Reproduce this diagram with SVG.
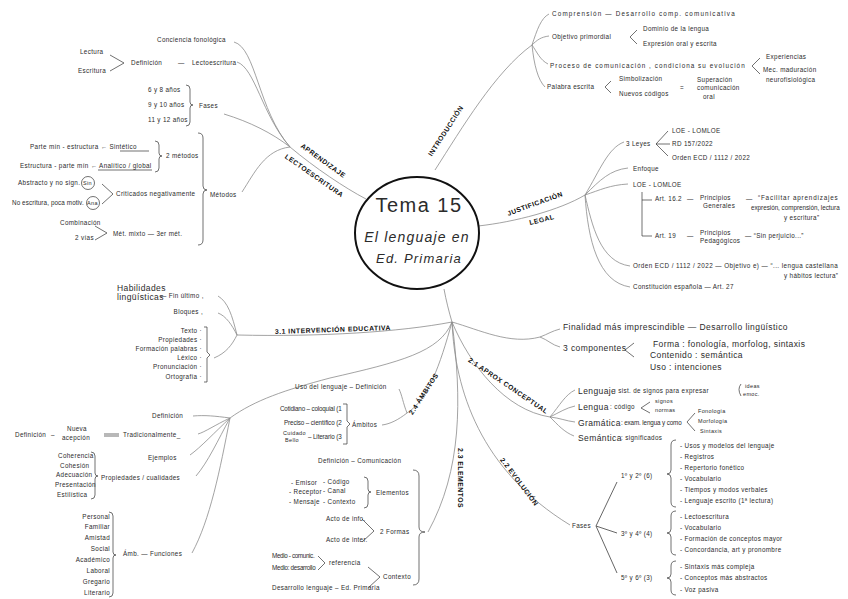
<svg xmlns="http://www.w3.org/2000/svg" width="848" height="599" viewBox="0 0 848 599">
<style>
text{font-family:"Liberation Sans","DejaVu Sans",sans-serif;fill:#2b2b2b}
.s{font-size:6.3px;letter-spacing:0.35px}
.m{font-size:8.5px;letter-spacing:0.4px}
.b{font-size:6.8px;font-weight:bold;letter-spacing:0.5px;fill:#111}
.c{fill:none;stroke:#8c8c8c;stroke-width:0.8}
.k{fill:none;stroke:#333;stroke-width:0.7}
.d{fill:none;stroke:#555;stroke-width:0.9}
</style>
<rect width="848" height="599" fill="#fff"/>

<g id="connectors" class="c">
<path d="M366,199 C345,188 315,168 290,147"/>
<path d="M234,42 C256,48 258,110 290,147"/>
<path d="M237,62 C255,68 262,115 290,147"/>
<path d="M224,114 C250,122 272,133 290,147"/>
<path d="M242,192 C255,172 265,150 290,147"/>
<path d="M435,170 C462,128 495,72 532,45"/>
<path d="M532,45 C537,30 541,18 549,14"/>
<path d="M532,45 C537,40 541,37 549,36"/>
<path d="M532,45 C537,52 540,60 548,64"/>
<path d="M532,45 C534,65 538,80 545,87"/>
<path d="M478,226 C515,222 560,210 585,195"/>
<path d="M585,195 C600,170 608,148 624,142"/>
<path d="M585,195 C600,180 610,170 628,168"/>
<path d="M585,195 C600,190 610,185 628,184"/>
<path d="M585,195 C592,225 600,262 630,266"/>
<path d="M585,195 C588,240 598,282 630,287"/>
<path d="M444,289 C446,300 449,312 452,322"/>
<path d="M452,322 C400,332 320,337 237,335"/>
<path d="M237,335 C232,315 228,302 218,296"/>
<path d="M237,335 C232,325 226,316 218,313"/>
<path d="M237,335 C232,345 226,353 214,358"/>
<path d="M452,322 C480,330 510,345 540,337"/>
<path d="M540,337 C548,334 552,331 560,329"/>
<path d="M540,337 C548,340 552,345 560,347"/>
<path d="M452,322 C470,365 505,410 550,417"/>
<path d="M550,417 C560,405 565,395 575,390"/>
<path d="M550,417 C560,412 566,408 575,406"/>
<path d="M550,417 C560,418 566,421 575,422"/>
<path d="M550,417 C558,425 564,432 574,436"/>
<path d="M452,322 C455,390 480,470 570,525"/>
<path class="d" d="M596,526 L617,482 M596,526 L617,533 M596,526 L617,573"/>
<path d="M452,322 C462,400 462,470 428,532"/>
<path d="M452,322 C440,365 428,400 407,413"/>
<path d="M407,413 C403,403 402,395 399,389"/>
<path d="M407,413 C398,420 390,424 382,425"/>
<path d="M452,322 C440,352 400,362 330,378 C285,390 255,400 230,418"/>
<path d="M230,418 C215,416 205,415 193,416"/>
<path d="M230,418 C215,425 205,432 198,434"/>
<path d="M230,418 C215,432 200,448 190,455"/>
<path d="M230,418 C218,440 208,462 196,476"/>
<path d="M230,418 C220,470 210,520 192,553"/>
</g>

<g id="title">
<ellipse cx="417" cy="233" rx="62" ry="56" fill="#fff" stroke="#111" stroke-width="2"/>
<text x="419" y="212" font-size="20" text-anchor="middle" letter-spacing="1.5" fill="#111">Tema 15</text>
<text x="417" y="242" font-size="14" text-anchor="middle" font-family="Liberation Serif" font-style="italic" letter-spacing="1.2" fill="#111">El lenguaje en</text>
<text x="419" y="263" font-size="13" text-anchor="middle" font-family="Liberation Serif" font-style="italic" letter-spacing="1.2" fill="#111">Ed. Primaria</text>
</g>

<g id="aprendizaje" class="s">
<text class="b" transform="translate(323,161) rotate(36)" text-anchor="middle" y="2">APRENDIZAJE</text>
<text class="b" transform="translate(314,176) rotate(35)" text-anchor="middle" y="2">LECTOESCRITURA</text>
<text x="157" y="42">Conciencia fonológica</text>
<text x="80" y="54">Lectura</text>
<text x="78" y="73">Escritura</text>
<path class="k" d="M110,55 L124,63 L110,71"/>
<text x="131" y="65">Definición</text>
<text x="178" y="65">—</text>
<text x="192" y="65">Lectoescritura</text>
<text x="148" y="92">6 y 8 años</text>
<text x="148" y="107">9 y 10 años</text>
<text x="148" y="122">11 y 12 años</text>
<path class="k" d="M186,85 Q190,85 190,89 L190,102 Q190,105 193,105 Q190,105 190,108 L190,122 Q190,126 186,126"/>
<text x="199" y="108">Fases</text>
<path class="k" d="M198,133 Q203,133 203,138 L203,186 Q203,190 207,190 Q203,190 203,194 L203,240 Q203,245 198,245"/>
<text x="210" y="197">Métodos</text>
<text x="30" y="149">Parte mín - estructura ← <tspan>Sintético</tspan></text>
<line class="k" x1="120" y1="151" x2="149" y2="151"/>
<path class="k" d="M155,141 Q159,141 159,145 L159,153 Q159,156 162,156 Q159,156 159,159 L159,168 Q159,172 155,172"/>
<text x="166" y="158">2 métodos</text>
<text x="20" y="168">Estructura - parte mín ← Analítico / global</text>
<line class="k" x1="98" y1="170" x2="152" y2="170"/>
<text x="18" y="185">Abstracto y no sign.</text>
<circle class="k" cx="88" cy="183" r="6.5"/>
<text x="83" y="185" font-size="5.5">Sin</text>
<text x="12" y="205" textLength="72">No escritura, poca motiv.</text>
<circle class="k" cx="93" cy="203" r="6.5"/>
<text x="87" y="205" font-size="5.5">Ana</text>
<path class="k" d="M102,184 L113,194 L102,204"/>
<text x="116" y="196">Criticados negativamente</text>
<text x="60" y="225">Combinación</text>
<text x="75" y="240">2 vías</text>
<path class="k" d="M95,226 L107,233 L95,240"/>
<text x="113" y="236">Mét. mixto — 3er mét.</text>
</g>

<g id="introduccion" class="s">
<text class="b" transform="translate(446,131) rotate(-57)" text-anchor="middle" y="2">INTRODUCCIÓN</text>
<text x="552" y="16" textLength="183">Comprensión — Desarrollo comp. comunicativa</text>
<text x="552" y="39">Objetivo primordial</text>
<path class="k" d="M637,30 L630,37 L637,44"/>
<text x="643" y="31">Dominio de la lengua</text>
<text x="643" y="46">Expresión oral y escrita</text>
<text x="550" y="68" textLength="195">Proceso de comunicación , condiciona su evolución</text>
<path class="k" d="M760,58 L752,66 L760,74"/>
<text x="766" y="59">Experiencias</text>
<text x="763" y="72">Mec. maduración</text>
<text x="766" y="82">neurofisiológica</text>
<text x="547" y="89">Palabra escrita</text>
<path class="k" d="M611,81 L605,87 L611,93"/>
<text x="619" y="81">Simbolización</text>
<text x="619" y="96">Nuevos códigos</text>
<text x="680" y="90">=</text>
<text x="697" y="82">Superación</text>
<text x="697" y="90">comunicación</text>
<text x="703" y="99">oral</text>
</g>

<g id="justificacion" class="s">
<text class="b" transform="translate(535,204) rotate(-20)" text-anchor="middle" y="2">JUSTIFICACIÓN</text>
<text class="b" transform="translate(542,220) rotate(-14)" text-anchor="middle" y="2">LEGAL</text>
<text x="626" y="146">3 Leyes</text>
<path class="k" d="M656,144 L668,131 M656,144 L670,144 M656,144 L668,156"/>
<text x="672" y="133">LOE - LOMLOE</text>
<text x="672" y="146">RD 157/2022</text>
<text x="672" y="160">Orden ECD / 1112 / 2022</text>
<text x="633" y="171">Enfoque</text>
<text x="633" y="187">LOE - LOMLOE</text>
<path class="k" d="M642,192 L642,236 L652,236 M642,200 L652,200"/>
<text x="655" y="201">Art. 16.2</text>
<text x="687" y="201">—</text>
<text x="700" y="200">Principios</text>
<text x="703" y="208">Generales</text>
<text x="746" y="201">—</text>
<text x="758" y="200" textLength="80">“Facilitar aprendizajes</text>
<text x="751" y="210" textLength="89">expresión, comprensión, lectura</text>
<text x="784" y="220">y escritura”</text>
<text x="655" y="238">Art. 19</text>
<text x="687" y="238">—</text>
<text x="700" y="235">Principios</text>
<text x="700" y="243">Pedagógicos</text>
<text x="745" y="238">— “Sin perjuicio...”</text>
<text x="633" y="268" textLength="205">Orden ECD / 1112 / 2022 — Objetivo e) — “... lengua castellana</text>
<text x="784" y="278">y hábitos lectura”</text>
<text x="633" y="289">Constitución española — Art. 27</text>
</g>

<g id="finalidad" class="m">
<text x="563" y="330" textLength="225">Finalidad más imprescindible — Desarrollo lingüístico</text>
<text x="563" y="351">3 componentes</text>
<path class="k" d="M634,343 L625,350 L634,357"/>
<text x="653" y="347">Forma : fonología, morfolog, sintaxis</text>
<text x="650" y="358">Contenido : semántica</text>
<text x="650" y="370">Uso : intenciones</text>
</g>

<g id="aprox" class="s">
<text class="b" transform="translate(508,386) rotate(34)" text-anchor="middle" y="2">2.1 APROX CONCEPTUAL</text>
<text x="578" y="394" class="m">Lenguaje</text>
<text x="614" y="393">: sist. de signos para expresar</text>
<path class="k" d="M741,384 Q737,389 741,396"/>
<text x="745" y="388" font-size="5.5">ideas</text>
<text x="743" y="396" font-size="5.5">emoc.</text>
<text x="578" y="410" class="m">Lengua</text>
<text x="610" y="409">: código</text>
<path class="k" d="M650,402 L641,408 L650,413"/>
<text x="655" y="403" font-size="5.5">signos</text>
<text x="655" y="412" font-size="5.5">normas</text>
<text x="578" y="426" class="m">Gramática</text>
<text x="621" y="425" textLength="61">: exam. lengua y como</text>
<path class="k" d="M695,413 L687,422 L695,431"/>
<text x="698" y="413" font-size="5.5">Fonología</text>
<text x="698" y="423" font-size="5.5">Morfología</text>
<text x="700" y="433" font-size="5.5">Sintaxis</text>
<text x="578" y="441" class="m">Semántica</text>
<text x="621" y="440">: significados</text>
</g>

<g id="evolucion" class="s">
<text class="b" transform="translate(519,482) rotate(53)" text-anchor="middle" y="2">2.2 EVOLUCIÓN</text>
<text x="572" y="528">Fases</text>
<text x="621" y="478">1º y 2º (6)</text>
<path class="k" d="M676,440 Q671,440 671,445 L671,470 Q671,474 667,474 Q671,474 671,478 L671,502 Q671,507 676,507"/>
<text x="680" y="448">- Usos y modelos del lenguaje</text>
<text x="680" y="459">- Registros</text>
<text x="680" y="470">- Repertorio fonético</text>
<text x="680" y="481">- Vocabulario</text>
<text x="680" y="492">- Tiempos y modos verbales</text>
<text x="680" y="503">- Lenguaje escrito (1ª lectura)</text>
<text x="621" y="536">3º y 4º (4)</text>
<path class="k" d="M676,511 Q671,511 671,516 L671,529 Q671,533 667,533 Q671,533 671,537 L671,550 Q671,555 676,555"/>
<text x="680" y="519">- Lectoescritura</text>
<text x="680" y="530">- Vocabulario</text>
<text x="680" y="541">- Formación de conceptos mayor</text>
<text x="680" y="552">- Concordancia, art y pronombre</text>
<text x="621" y="580">5º y 6º (3)</text>
<path class="k" d="M676,561 Q671,561 671,566 L671,574 Q671,578 667,578 Q671,578 671,582 L671,590 Q671,595 676,595"/>
<text x="680" y="569">- Sintaxis más compleja</text>
<text x="680" y="580">- Conceptos más abstractos</text>
<text x="680" y="592">- Voz pasiva</text>
</g>

<g id="elementos" class="s">
<text class="b" transform="translate(460,478) rotate(90)" text-anchor="middle" y="2">2.3 ELEMENTOS</text>
<path class="k" d="M413,470 Q419,470 419,476 L419,527 Q419,532 425,532 Q419,532 419,537 L419,579 Q419,585 413,585"/>
<text x="318" y="463">Definición – Comunicación</text>
<text x="291" y="485">- Emisor</text>
<text x="289" y="494">- Receptor</text>
<text x="289" y="504">- Mensaje</text>
<text x="323" y="484">- Código</text>
<text x="323" y="493">- Canal</text>
<text x="323" y="504">- Contexto</text>
<path class="k" d="M364,477 Q368,477 368,481 L368,489 Q368,492 371,492 Q368,492 368,495 L368,504 Q368,508 364,508"/>
<text x="376" y="495">Elementos</text>
<text x="326" y="521">Acto de info.</text>
<text x="326" y="542">Acto de inter.</text>
<path class="k" d="M362,519 L374,531 L362,542"/>
<text x="380" y="534">2 Formas</text>
<text x="272" y="558" textLength="43">Medio - comunic.</text>
<text x="272" y="570" textLength="44">Medio: desarrollo</text>
<path class="k" d="M318,556 L325,563 L318,570"/>
<text x="329" y="565">referencia</text>
<text x="272" y="590">Desarrollo lenguaje – Ed. Primaria</text>
<path class="k" d="M368,567 L380,577 L368,588"/>
<text x="383" y="579">Contexto</text>
</g>

<g id="ambitos" class="s">
<text class="b" transform="translate(424,394) rotate(-57)" text-anchor="middle" y="2">2.4 ÁMBITOS</text>
<text x="295" y="389">Uso del lenguaje – Definición</text>
<text x="280" y="411" textLength="62">Cotidiano – coloquial (1</text>
<text x="284" y="425" textLength="58">Preciso – científico (2</text>
<text x="283" y="435" font-size="5.5">Cuidado</text>
<text x="285" y="442" font-size="5.5">Bello</text>
<text x="308" y="439" textLength="34">– Literario (3</text>
<path class="k" d="M343,404 L347,404 L347,421 L350,424 L347,427 L347,444 L343,444"/>
<text x="352" y="427">Ámbitos</text>
</g>

<g id="intervencion" class="s">
<text class="b" transform="translate(333,332) rotate(-2)" text-anchor="middle" y="0">3.1 INTERVENCIÓN EDUCATIVA</text>
<text x="117" y="291" class="m">Habilidades</text>
<text x="117" y="300" class="m">lingüísticas</text>
<text x="160" y="298">— Fin último ,</text>
<text x="203" y="314" text-anchor="end">Bloques ,</text>
<text x="202" y="333" text-anchor="end">Texto ·</text>
<text x="202" y="342" text-anchor="end">Propiedades ·</text>
<text x="202" y="351" text-anchor="end">Formación palabras ·</text>
<text x="202" y="360" text-anchor="end">Léxico ·</text>
<text x="202" y="369" text-anchor="end">Pronunciación ·</text>
<text x="202" y="379" text-anchor="end">Ortografía ·</text>
<path class="k" d="M204,327 L207,327 L207,352 L210,355 L207,358 L207,382 L204,382"/>
</g>

<g id="texto" class="s">
<text x="152" y="418">Definición</text>
<text x="15" y="437">Definición</text>
<text x="51" y="437">–</text>
<text x="67" y="431">Nueva</text>
<text x="62" y="440">acepción</text>
<path class="k" d="M104,434 L119,434 M104,436 L119,436"/>
<text x="123" y="437">Tradicionalmente_</text>
<text x="148" y="460">Ejemplos</text>
<text x="58" y="458">Coherencia</text>
<text x="60" y="468">Cohesión</text>
<text x="56" y="477">Adecuación</text>
<text x="55" y="487">Presentación</text>
<text x="57" y="497">Estilística</text>
<path class="k" d="M91,452 Q95,452 95,456 L95,473 Q95,476 98,476 Q95,476 95,479 L95,495 Q95,499 91,499"/>
<text x="101" y="480">Propiedades / cualidades</text>
<text x="110" y="519" text-anchor="end">Personal</text>
<text x="110" y="529" text-anchor="end">Familiar</text>
<text x="110" y="540" text-anchor="end">Amistad</text>
<text x="110" y="551" text-anchor="end">Social</text>
<text x="110" y="562" text-anchor="end">Académico</text>
<text x="110" y="573" text-anchor="end">Laboral</text>
<text x="110" y="584" text-anchor="end">Gregario</text>
<text x="110" y="595" text-anchor="end">Literario</text>
<path class="k" d="M109,512 Q113,512 113,516 L113,552 Q113,555 116,555 Q113,555 113,558 L113,593 Q113,597 109,597"/>
<text x="123" y="556">Ámb. — Funciones</text>
</g>
</svg>
